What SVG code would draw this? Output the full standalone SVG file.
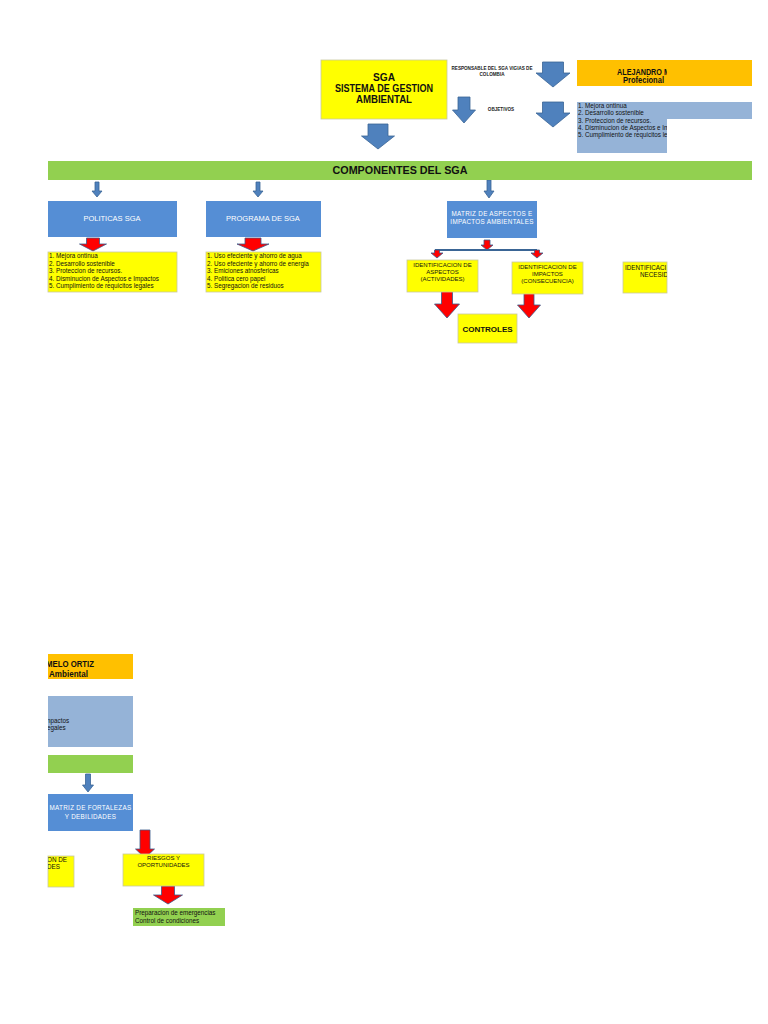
<svg xmlns="http://www.w3.org/2000/svg" width="768" height="1024" viewBox="0 0 768 1024">
<defs>
<style>
text{font-family:"Liberation Sans",Arial,sans-serif;}
.y{fill:#FFFF00;stroke:#C8C8A0;stroke-width:0.8}
.o{fill:#FFC000}
.lb{fill:#95B3D7}
.g{fill:#92D050}
.b{fill:#558ED5}
.ba{fill:#4F81BD;stroke:#3A6595;stroke-width:0.8}
.ra{fill:#FF0000;stroke:#3A5A8A;stroke-width:0.8}
.t{font-size:10.5px;font-weight:bold;fill:#111;text-anchor:middle}
.w{font-size:7.5px;fill:#fff;text-anchor:middle}
.ws{font-size:6.3px;fill:#fff;text-anchor:middle;letter-spacing:0.3px}
.l{font-size:6.3px;fill:#111}
.s{font-size:6px;fill:#111;text-anchor:middle}
.tiny{font-size:4.6px;font-weight:bold;fill:#222;text-anchor:middle}
</style>
<clipPath id="cr"><rect x="0" y="0" width="667" height="1024"/></clipPath>
<clipPath id="cl"><rect x="48" y="0" width="720" height="1024"/></clipPath>
</defs>

<g id="connectors">
<polygon class="ba" points="368,124 388,124 388,136 394.5,136 378,149 361.5,136 368,136"/>
<polygon class="ba" points="458,97 470,97 470,110 475.5,110 464,123 452.5,110 458,110"/>
<polygon class="ba" points="542.5,62 563.5,62 563.5,73 570,73 553,87 536,73 542.5,73"/>
<polygon class="ba" points="542.5,102 563.5,102 563.5,113 570,113 553,127 536,113 542.5,113"/>
<polygon class="ba" points="95,182 99,182 99,191 102,191 97,197 92,191 95,191"/>
<polygon class="ba" points="256,182 260,182 260,191 263,191 258,197 253,191 256,191"/>
<polygon class="ba" points="487,180 491,180 491,191 494,191 489,198 484,191 487,191"/>
<polygon class="ba" points="85.5,774 90.5,774 90.5,785 93.5,785 88,792 82.5,785 85.5,785"/>
<polygon class="ra" points="86.5,238 99.5,238 99.5,244 106.5,244 93,251 79.5,244 86.5,244"/>
<polygon class="ra" points="245,238 261,238 261,244 269,244 253,251 237,244 245,244"/>
<polygon class="ra" points="484,240 490,240 490,245 493,245 487,250 481,245 484,245"/>
<line x1="435" y1="250" x2="537" y2="250" stroke="#3A6595" stroke-width="2"/>
<polygon class="ra" points="434.5,250 439.5,250 439.5,253 443,253 437,258 431,253 434.5,253"/>
<polygon class="ra" points="534.5,250 539.5,250 539.5,253 543,253 537,258 531,253 534.5,253"/>
<polygon class="ra" points="441.5,291 452.5,291 452.5,304 459.5,304 447,318 434.5,304 441.5,304"/>
<polygon class="ra" points="524,293 534,293 534,305 540.5,305 529,318 517.5,305 524,305"/>
<polygon class="ra" points="140,830 150,830 150,849 154.5,849 145,858 135.5,849 140,849"/>
<polygon class="ra" points="161.5,886 174.5,886 174.5,895 182.5,895 168,904 153.5,895 161.5,895"/>
</g>

<g id="sga">
<rect class="y" x="321" y="60" width="126" height="59" stroke="none"/>
<text class="t" x="384" y="81" textLength="22" lengthAdjust="spacingAndGlyphs">SGA</text>
<text class="t" x="384" y="92" textLength="98" lengthAdjust="spacingAndGlyphs">SISTEMA DE GESTION</text>
<text class="t" x="384" y="103" textLength="56" lengthAdjust="spacingAndGlyphs">AMBIENTAL</text>
</g>

<g id="responsable">
<text class="tiny" x="492" y="70">RESPONSABLE DEL SGA VIGIAS DE</text>
<text class="tiny" x="492" y="76">COLOMBIA</text>
</g>

<g id="objetivos-label">
<text class="tiny" x="501" y="111">OBJETIVOS</text>
</g>

<g id="alejandro">
<rect class="o" x="577" y="60" width="175" height="26"/>
<g clip-path="url(#cr)">
<text x="617" y="75" font-size="9" font-weight="bold" fill="#111" textLength="53" lengthAdjust="spacingAndGlyphs">ALEJANDRO M</text>
<text x="623" y="83" font-size="8.5" font-weight="bold" fill="#111" textLength="41" lengthAdjust="spacingAndGlyphs">Profecional</text>
</g>
</g>

<g id="objetivos-list">
<path class="lb" d="M577,102 H752 V119 H667 V153 H577 Z"/>
<g clip-path="url(#cr)">
<text class="l" x="578" y="108">1. Mejora ontinua</text>
<text class="l" x="578" y="115">2. Desarrollo sostenible</text>
<text class="l" x="578" y="122.5">3. Proteccion de recursos.</text>
<text class="l" x="578" y="129.5">4. Disminucion de Aspectos e Impactos</text>
<text class="l" x="578" y="136.5">5. Cumplimiento de requicitos legales</text>
</g>
</g>

<g id="componentes">
<rect class="g" x="48" y="161" width="704" height="19"/>
<text x="400" y="174" font-size="10.5" font-weight="bold" fill="#111" text-anchor="middle" textLength="135" lengthAdjust="spacingAndGlyphs">COMPONENTES DEL SGA</text>
</g>

<g id="politicas">
<rect class="b" x="48" y="201" width="129" height="36"/>
<text class="w" x="112" y="221">POLITICAS SGA</text>
</g>

<g id="politicas-list">
<rect class="y" x="48" y="252" width="129" height="40"/>
<text class="l" x="49" y="258">1. Mejora ontinua</text>
<text class="l" x="49" y="265.5">2. Desarrollo sostenible</text>
<text class="l" x="49" y="273">3. Proteccion de recursos.</text>
<text class="l" x="49" y="280.5">4. Disminucion de Aspectos e Impactos</text>
<text class="l" x="49" y="288">5. Cumplimiento de requicitos legales</text>
</g>

<g id="programa">
<rect class="b" x="206" y="201" width="115" height="36"/>
<text class="w" x="263" y="221">PROGRAMA DE  SGA</text>
</g>

<g id="programa-list">
<rect class="y" x="206" y="252" width="115" height="40"/>
<text class="l" x="207" y="258">1. Uso efeciente y ahorro de agua</text>
<text class="l" x="207" y="265.5">2. Uso efeciente y ahorro de energia</text>
<text class="l" x="207" y="273">3. Emiciones atnosfericas</text>
<text class="l" x="207" y="280.5">4. Politica cero papel</text>
<text class="l" x="207" y="288">5. Segregacion de residuos</text>
</g>

<g id="matriz">
<rect class="b" x="447" y="201" width="90" height="37"/>
<text class="ws" x="492" y="216">MATRIZ DE ASPECTOS E</text>
<text class="ws" x="492" y="224">IMPACTOS AMBIENTALES</text>
</g>

<g id="id-aspectos">
<rect class="y" x="407" y="260" width="71" height="32"/>
<text class="s" x="442.5" y="267">IDENTIFICACION DE</text>
<text class="s" x="442.5" y="274">ASPECTOS</text>
<text class="s" x="442.5" y="281">(ACTIVIDADES)</text>
</g>

<g id="id-impactos">
<rect class="y" x="512" y="262" width="71" height="32"/>
<text class="s" x="547.5" y="269">IDENTIFICACION DE</text>
<text class="s" x="547.5" y="276">IMPACTOS</text>
<text class="s" x="547.5" y="283">(CONSECUENCIA)</text>
</g>

<g id="controles">
<rect class="y" x="458" y="314" width="59" height="29"/>
<text x="487.5" y="332" font-size="8" font-weight="bold" fill="#111" text-anchor="middle">CONTROLES</text>
</g>

<g id="id-necesidades">
<rect class="y" x="623" y="262" width="44" height="31" stroke="none"/>
<g clip-path="url(#cr)">
<text class="l" x="625" y="270">IDENTIFICACI</text>
<text class="l" x="640" y="277">NECESIDA</text>
</g>
</g>

<g id="melo">
<rect class="o" x="48" y="654" width="85" height="25"/>
<g clip-path="url(#cl)">
<text x="46" y="667" font-size="9" font-weight="bold" fill="#111" textLength="48" lengthAdjust="spacingAndGlyphs">MELO ORTIZ</text>
<text x="49" y="677" font-size="8.5" font-weight="bold" fill="#111" textLength="39" lengthAdjust="spacingAndGlyphs">Ambiental</text>
</g>
</g>

<g id="objetivos-list-2">
<rect class="lb" x="48" y="696" width="85" height="51"/>
<g clip-path="url(#cl)">
<text class="l" x="47" y="723">npactos</text>
<text class="l" x="47" y="730">egales</text>
</g>
</g>

<g id="componentes-2">
<rect class="g" x="48" y="755" width="85" height="18"/>
</g>

<g id="matriz-fortalezas">
<rect class="b" x="48" y="794" width="85" height="37"/>
<text class="ws" x="90.5" y="810">MATRIZ  DE FORTALEZAS</text>
<text class="ws" x="90.5" y="819">Y DEBILIDADES</text>
</g>

<g id="necesidades-2">
<rect class="y" x="48" y="856" width="26" height="31"/>
<g clip-path="url(#cl)">
<text class="l" x="47" y="862">ON DE</text>
<text class="l" x="47" y="869">DES</text>
</g>
</g>

<g id="riesgos">
<rect class="y" x="123" y="854" width="81" height="32"/>
<text class="s" x="163.5" y="860">RIESGOS Y</text>
<text class="s" x="163.5" y="866.5">OPORTUNIDADES</text>
</g>

<g id="acciones">
<rect class="g" x="133" y="908" width="92" height="18"/>
<text class="l" x="135" y="915">Preparacion de emergencias</text>
<text class="l" x="135" y="923">Control de condiciones</text>
</g>
</svg>
